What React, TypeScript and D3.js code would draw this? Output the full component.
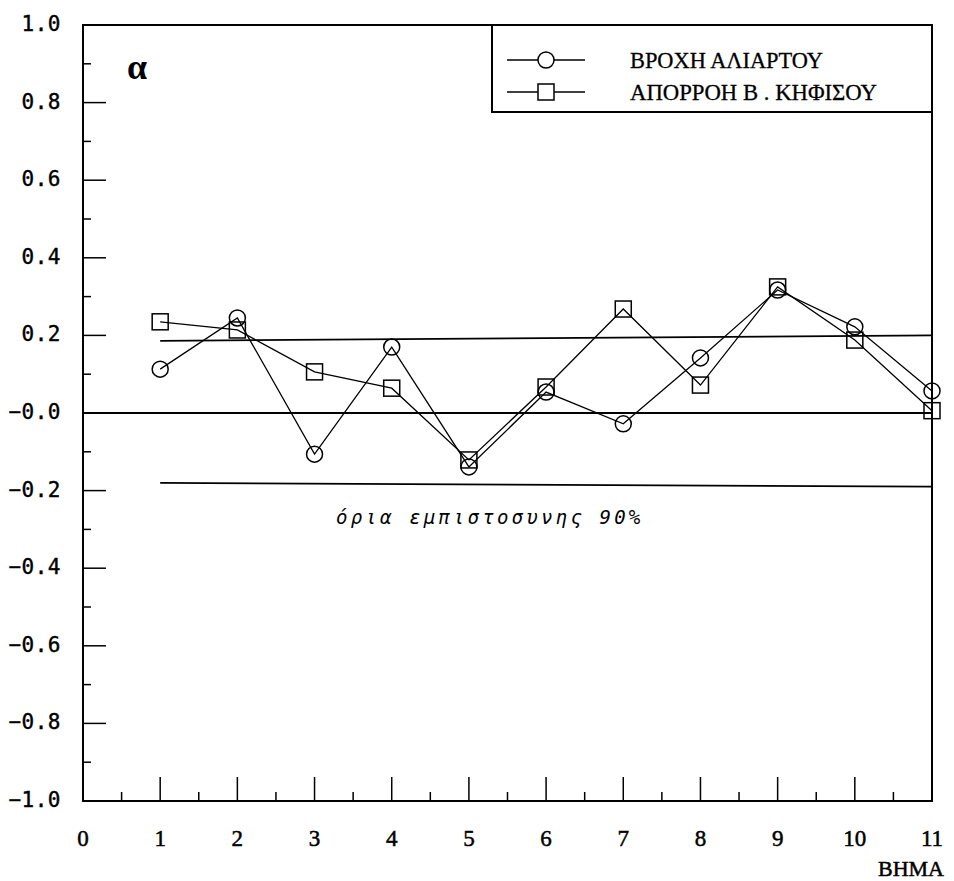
import React from "react";
import * as d3 from "d3";

const lags = [1, 2, 3, 4, 5, 6, 7, 8, 9, 10, 11];
const rainAliartos = [0.113, 0.245, -0.106, 0.170, -0.139, 0.054, -0.028, 0.142, 0.317, 0.222, 0.057];
const runoffKifisos = [0.235, 0.214, 0.106, 0.064, -0.121, 0.067, 0.268, 0.072, 0.325, 0.188, 0.006];
const upperLimit = [0.186, 0.200];
const lowerLimit = [-0.180, -0.190];
const limitLags = [1, 11];
const yTickValues = [1.0, 0.8, 0.6, 0.4, 0.2, 0.0, -0.2, -0.4, -0.6, -0.8, -1.0];
const yTickLabels = ["1.0", "0.8", "0.6", "0.4", "0.2", "−0.0", "−0.2", "−0.4", "−0.6", "−0.8", "−1.0"];
const xTickValues = [0, 1, 2, 3, 4, 5, 6, 7, 8, 9, 10, 11];
const xTickLabels = ["0", "1", "2", "3", "4", "5", "6", "7", "8", "9", "10", "11"];
const seriesNames = ["ΒΡΟΧΗ  ΑΛΙΑΡΤΟΥ", "ΑΠΟΡΡΟΗ  Β . ΚΗΦΙΣΟΥ"];
const xAxisTitle = "BHMA";
const panelLabel = "α";
const limitNote = "όρια εμπιστοσυνης 90%";

const W = 954, H = 881;
const L = 83, R = 932, T = 25, B = 801;

export default function App() {
  const x = d3.scaleLinear().domain([0, 11]).range([L, R]);
  const y = d3.scaleLinear().domain([-1, 1]).range([B, T]);
  const line = d3.line<number>().x((_, i) => x(lags[i])).y((v) => y(v));
  const limLine = d3.line<number>().x((_, i) => x(limitLags[i])).y((v) => y(v));
  const yMinor = d3.range(-0.9, 1.0, 0.2);
  const xMinor = d3.range(0.5, 11, 1);
  const monoFont = "'DejaVu Sans Mono', monospace";
  const serif = "'Liberation Serif', serif";
  const r = 8, s = 16;
  return (
    <svg width={W} height={H} style={{ position: "absolute", left: 0, top: 0, background: "#fff" }}>
      <rect x={0} y={0} width={W} height={H} fill="#fff" />
      <rect x={L} y={T} width={R - L} height={B - T} fill="none" stroke="#000" strokeWidth={2} />
      {yTickValues.map((v) => (
        <line key={"ym" + v} x1={L} x2={L + 23} y1={y(v)} y2={y(v)} stroke="#000" strokeWidth={1.5} />
      ))}
      {yMinor.map((v) => (
        <line key={"yn" + v} x1={L} x2={L + 8} y1={y(v)} y2={y(v)} stroke="#000" strokeWidth={1.5} />
      ))}
      {yTickValues.map((v, i) => (
        <text key={"yl" + v} x={61} y={y(v) - 1} textAnchor="end" dominantBaseline="central"
          fontFamily={monoFont} fontSize={21} letterSpacing={0.5} stroke="#000" strokeWidth={0.4}>{yTickLabels[i]}</text>
      ))}
      {xTickValues.map((v) => (
        <line key={"xm" + v} x1={x(v)} x2={x(v)} y1={B} y2={B - 24} stroke="#000" strokeWidth={1.5} />
      ))}
      {xMinor.map((v) => (
        <line key={"xn" + v} x1={x(v)} x2={x(v)} y1={B} y2={B - 9} stroke="#000" strokeWidth={1.5} />
      ))}
      {xTickValues.map((v, i) => (
        <text key={"xl" + v} x={x(v)} y={838} textAnchor="middle" dominantBaseline="central"
          fontFamily={serif} fontSize={23} stroke="#000" strokeWidth={0.5}>{xTickLabels[i]}</text>
      ))}
      <text x={944} y={868} textAnchor="end" dominantBaseline="central" fontFamily={serif} fontSize={22} stroke="#000" strokeWidth={0.5}>{xAxisTitle}</text>
      <line x1={L} x2={R} y1={y(0)} y2={y(0)} stroke="#000" strokeWidth={1.8} />
      <path d={limLine(upperLimit) || ""} fill="none" stroke="#000" strokeWidth={1.8} />
      <path d={limLine(lowerLimit) || ""} fill="none" stroke="#000" strokeWidth={1.8} />
      <text x={336} y={517} dominantBaseline="central" fontFamily={monoFont} fontStyle="italic" fontSize={19} letterSpacing={3.2}>{limitNote}</text>
      <path d={line(rainAliartos) || ""} fill="none" stroke="#000" strokeWidth={1.3} />
      <path d={line(runoffKifisos) || ""} fill="none" stroke="#000" strokeWidth={1.3} />
      {rainAliartos.map((v, i) => (
        <circle key={"c" + i} cx={x(lags[i])} cy={y(v)} r={r} fill="none" stroke="#000" strokeWidth={1.5} />
      ))}
      {runoffKifisos.map((v, i) => (
        <rect key={"s" + i} x={x(lags[i]) - s / 2} y={y(v) - s / 2} width={s} height={s} fill="none" stroke="#000" strokeWidth={1.5} />
      ))}
      <text x={137} y={67} textAnchor="middle" dominantBaseline="central" fontFamily={serif} fontWeight="bold" fontSize={36}>{panelLabel}</text>
      <rect x={492} y={T} width={R - 492} height={112 - T} fill="#fff" stroke="#000" strokeWidth={2} />
      <line x1={507} x2={585} y1={60} y2={60} stroke="#000" strokeWidth={1.3} />
      <circle cx={546} cy={60} r={r} fill="#fff" stroke="#000" strokeWidth={1.5} />
      <line x1={507} x2={585} y1={92} y2={92} stroke="#000" strokeWidth={1.3} />
      <rect x={546 - s / 2} y={92 - s / 2} width={s} height={s} fill="#fff" stroke="#000" strokeWidth={1.5} />
      <text x={630} y={60} dominantBaseline="central" fontFamily={serif} fontSize={23} stroke="#000" strokeWidth={0.3} textLength={193} lengthAdjust="spacingAndGlyphs">{seriesNames[0]}</text>
      <text x={630} y={92} dominantBaseline="central" fontFamily={serif} fontSize={23} stroke="#000" strokeWidth={0.3} textLength={247} lengthAdjust="spacingAndGlyphs">{seriesNames[1]}</text>
    </svg>
  );
}
